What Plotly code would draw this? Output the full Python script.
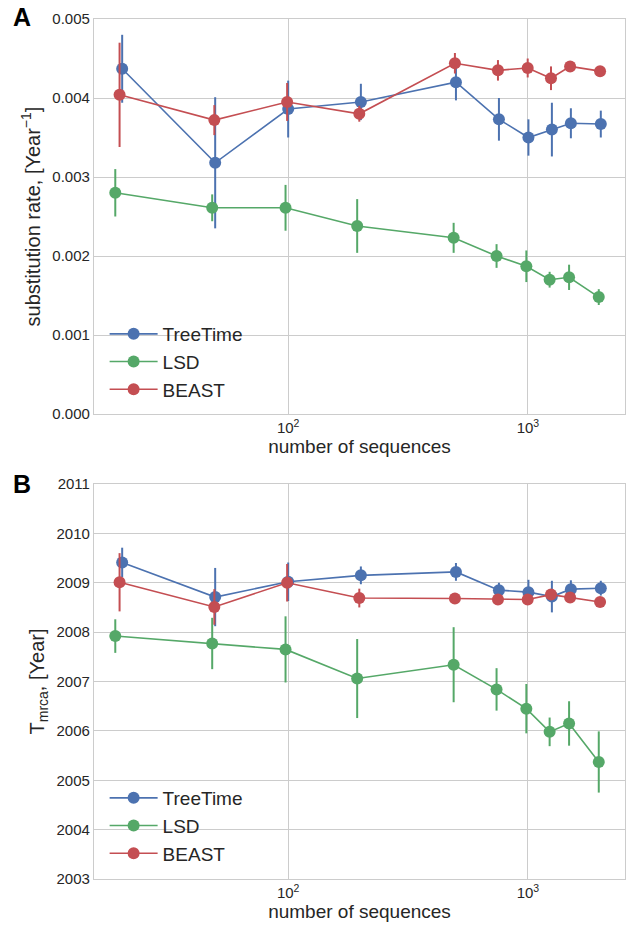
import plotly.graph_objects as go

# ---------------- data ----------------
n_seq = [20, 50, 100, 200, 500, 750, 1000, 1250, 1500, 2000]
# slight horizontal offsets per method as in the reference
x_treetime = [20.3, 49.6, 100, 201, 501, 757, 1005, 1259, 1511, 2014]
x_lsd = [19.0, 48.2, 97.5, 194, 490, 740, 985, 1232, 1485, 1975]
x_beast = [19.8, 49.2, 99, 198, 496, 750, 998, 1248, 1500, 2000]

rate_treetime = [0.00437, 0.00318, 0.00386, 0.00395, 0.00420, 0.00373, 0.00350, 0.00360, 0.00368, 0.00367]
rate_treetime_err = [0.00043, 0.00083, 0.00036, 0.00023, 0.00023, 0.00027, 0.00023, 0.00034, 0.00019, 0.00017]
rate_lsd = [0.00280, 0.00261, 0.00261, 0.00238, 0.00223, 0.00200, 0.00187, 0.00170, 0.00173, 0.00148]
rate_lsd_err = [0.00030, 0.00017, 0.00029, 0.00034, 0.00019, 0.00015, 0.00020, 0.00010, 0.00016, 0.00010]
rate_beast = [0.00404, 0.00372, 0.00395, 0.00380, 0.00444, 0.00435, 0.00438, 0.00425, 0.00440, 0.00434]
rate_beast_err = [0.00066, 0.00019, 0.00024, 0.00010, 0.00013, 0.00013, 0.00012, 0.00015, 0.00005, 0.00004]

tmrca_treetime = [2009.41, 2008.71, 2009.02, 2009.15, 2009.22, 2008.85, 2008.81, 2008.72, 2008.87, 2008.89]
tmrca_treetime_err = [0.30, 0.59, 0.39, 0.18, 0.18, 0.15, 0.25, 0.32, 0.18, 0.15]
tmrca_lsd = [2007.92, 2007.77, 2007.65, 2007.06, 2007.34, 2006.84, 2006.45, 2005.98, 2006.15, 2005.37]
tmrca_lsd_err = [0.34, 0.52, 0.67, 0.80, 0.76, 0.43, 0.50, 0.29, 0.45, 0.62]
tmrca_beast = [2009.01, 2008.51, 2009.00, 2008.69, 2008.68, 2008.66, 2008.66, 2008.76, 2008.70, 2008.61]
tmrca_beast_err = [0.59, 0.36, 0.38, 0.19, 0.05, 0.05, 0.05, 0.05, 0.05, 0.05]

methods = ["TreeTime", "LSD", "BEAST"]
colors = {"TreeTime": "#4C72B0", "LSD": "#55A868", "BEAST": "#C44E52"}
x_by_method = {"TreeTime": x_treetime, "LSD": x_lsd, "BEAST": x_beast}
rate_by_method = {"TreeTime": (rate_treetime, rate_treetime_err),
                  "LSD": (rate_lsd, rate_lsd_err),
                  "BEAST": (rate_beast, rate_beast_err)}
tmrca_by_method = {"TreeTime": (tmrca_treetime, tmrca_treetime_err),
                   "LSD": (tmrca_lsd, tmrca_lsd_err),
                   "BEAST": (tmrca_beast, tmrca_beast_err)}

x_tickvals = [100, 1000]
x_ticktext = ["10<sup>2</sup>", "10<sup>3</sup>"]

FONT = "Liberation Sans, Arial, sans-serif"
TXT = "#262626"
GRID = "#cccccc"

fig = go.Figure()

for m in methods:
    y, e = rate_by_method[m]
    fig.add_trace(go.Scatter(
        x=x_by_method[m], y=y, name=m, mode="lines+markers",
        line=dict(color=colors[m], width=1.6),
        marker=dict(color=colors[m], size=12),
        error_y=dict(type="data", array=e, visible=True, color=colors[m], thickness=2, width=0),
        xaxis="x", yaxis="y", legend="legend",
    ))
for m in methods:
    y, e = tmrca_by_method[m]
    fig.add_trace(go.Scatter(
        x=x_by_method[m], y=y, name=m, mode="lines+markers",
        line=dict(color=colors[m], width=1.6),
        marker=dict(color=colors[m], size=12),
        error_y=dict(type="data", array=e, visible=True, color=colors[m], thickness=2, width=0),
        xaxis="x2", yaxis="y2", legend="legend2",
    ))

xcommon = dict(type="log", range=[1.19, 3.405], tickvals=x_tickvals, ticktext=x_ticktext,
               showgrid=True, gridcolor=GRID, gridwidth=1, zeroline=False,
               showline=True, linecolor=GRID, linewidth=1.2, mirror=True, ticks="",
               tickfont=dict(size=15, color=TXT, family=FONT),
               title=dict(text="number of sequences", font=dict(size=19, color=TXT, family=FONT), standoff=4))
ycommon = dict(showgrid=True, gridcolor=GRID, gridwidth=1, zeroline=False,
               showline=True, linecolor=GRID, linewidth=1.2, mirror=True, ticks="",
               tickfont=dict(size=15, color=TXT, family=FONT))

domA = [465 / 860, 1.0]
domB = [0.0, 395 / 860]

fig.update_layout(
    width=627, height=925,
    margin=dict(l=94, r=2, t=19, b=46),
    paper_bgcolor="white", plot_bgcolor="white",
    font=dict(family=FONT, color=TXT),
    xaxis=dict(**xcommon, domain=[0, 1], anchor="y"),
    yaxis=dict(**ycommon, domain=domA, anchor="x", range=[0, 0.005], dtick=0.001, tickformat=".3f",
               title=dict(text="substitution rate, [Year<sup>\u22121</sup>]",
                          font=dict(size=20, color=TXT, family=FONT), standoff=6)),
    xaxis2=dict(**xcommon, domain=[0, 1], anchor="y2"),
    yaxis2=dict(**ycommon, domain=domB, anchor="x2", range=[2003, 2011], dtick=1, tickformat="d",
                title=dict(text="T<sub>mrca</sub>, [Year]",
                           font=dict(size=20, color=TXT, family=FONT), standoff=6)),
    legend=dict(x=0.02, y=(879 - 315) / 860, xanchor="left", yanchor="top",
                bgcolor="rgba(0,0,0,0)", font=dict(size=19, color=TXT, family=FONT),
                itemwidth=48, tracegroupgap=0),
    legend2=dict(x=0.02, y=(879 - 779) / 860, xanchor="left", yanchor="top",
                 bgcolor="rgba(0,0,0,0)", font=dict(size=19, color=TXT, family=FONT),
                 itemwidth=48, tracegroupgap=0),
    annotations=[
        dict(text="<b>A</b>", x=(22 - 94) / 531, y=(879 - 17) / 860, xref="paper", yref="paper",
             xanchor="center", yanchor="middle",
             showarrow=False, font=dict(size=25, color="black", family=FONT)),
        dict(text="<b>B</b>", x=(22 - 94) / 531, y=(879 - 484) / 860, xref="paper", yref="paper",
             xanchor="center", yanchor="middle",
             showarrow=False, font=dict(size=25, color="black", family=FONT)),
    ],
)

fig.write_html("out.html")
